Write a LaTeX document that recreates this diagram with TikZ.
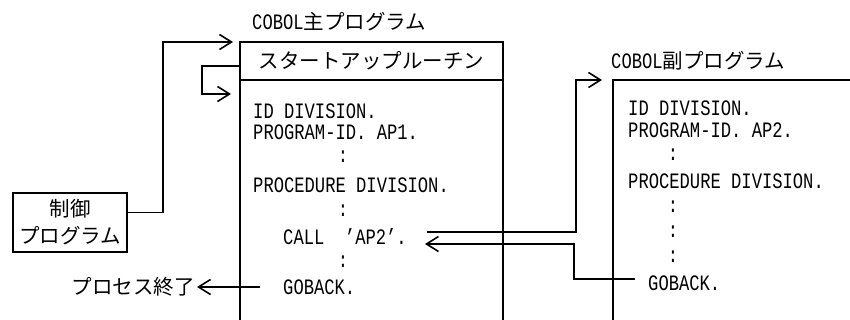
\documentclass[tikz,border=0pt]{standalone}
\usepackage{fontspec}
\usetikzlibrary{arrows.meta,positioning,calc}
\newfontfamily\jpf{Noto Sans CJK JP}
\newfontfamily\cobf[FakeStretch=0.78]{Liberation Mono}
\newcommand{\fsz}{\fontsize{20.5pt}{27pt}\selectfont}
\newcommand{\csz}{\fontsize{22pt}{27pt}\selectfont}
\tikzset{
  frame/.style={line width=1.6pt,black},
  flow/.style={line width=1.6pt,black,-{Straight Barb[length=12pt,width=15pt]}},
  code/.style={anchor=west,inner sep=0pt,font=\cobf\csz},
  dots/.style={inner sep=0pt,font=\cobf\csz},
  lbl/.style={inner sep=0pt,font=\jpf\fsz},
  hdr/.style={draw,line width=1.6pt,outer sep=0pt,minimum width=263pt,minimum height=38pt,inner sep=0pt,font=\jpf\fsz},
  cbox/.style={draw,line width=1.6pt,outer sep=0pt,minimum width=114pt,minimum height=59pt,align=center,inner sep=0pt,font=\jpf\fsz},
}
\begin{document}
\begin{tikzpicture}[x=1pt,y=-1pt]
  \useasboundingbox (0,0) rectangle (850,320);
  % main program
  \node[lbl,anchor=west] (maint) at (252,22) {{\cobf\csz COBOL}主プログラム};
  \node[hdr] (start) at (371.5,61) {スタートアップルーチン};
  \draw[frame] (start.south west) -- (240,324); \draw[frame] (start.south east) -- (503,324);
  \coordinate (bodyin) at (240,94);
  \node[code] (mid) at (253,111) {ID DIVISION.};
  \node[code] (mpid) at (253,132) {PROGRAM-ID. AP1.};
  \node[code] (mproc) at (253,185) {PROCEDURE DIVISION.};
  \node[code] (call) at (283,237) {CALL\ \ ’AP2’.};
  \node[code] (gob1) at (283,287) {GOBACK.};
  \foreach \y [count=\i] in {157,211,262}{
    \node[dots] (mc\i) at (343,\y){:};}
  % sub program
  \node[lbl,anchor=west] (subt) at (611,61) {{\cobf\csz COBOL}副プログラム};
  \coordinate (subtl) at (613,80);
  \draw[frame] (613,324) -- (subtl) -- (854,80);
  \node[code] (sid) at (628,108) {ID DIVISION.};
  \node[code] (spid) at (628,130) {PROGRAM-ID. AP2.};
  \node[code] (sproc) at (628,181) {PROCEDURE DIVISION.};
  \node[code] (gob2) at (648,283) {GOBACK.};
  \foreach \y [count=\i] in {155,207,232,257}{
    \node[dots] (sc\i) at (673,\y){:};}
  % control program and process end
  \node[cbox] (ctrl) at (70,222.5) {制御\\プログラム};
  \node[lbl,anchor=east] (pend) at (195,287) {プロセス終了};
  \draw[flow,shorten >=7pt] ([yshift=10pt]ctrl.east) -- ++(36,0) |- (start.north west);
  \draw[flow,shorten >=9pt] ([yshift=-5pt]start.west) -- ++(-38,0) |- (bodyin);
  \draw[flow,shorten >=2pt] ([xshift=-23pt]gob1.west) -- (pend.east);
  % call and return
  \coordinate (callout) at ([shift={(20pt,5pt)}]call.east);
  \coordinate (callin) at ([shift={(18pt,-7pt)}]call.east);
  \draw[flow,shorten >=11pt] (callout) -- ++(149,0) |- (subtl);
  \draw[flow] ([shift={(-13pt,4pt)}]gob2.west) -- ++(-61,0) |- (callin);
\end{tikzpicture}
\end{document}
